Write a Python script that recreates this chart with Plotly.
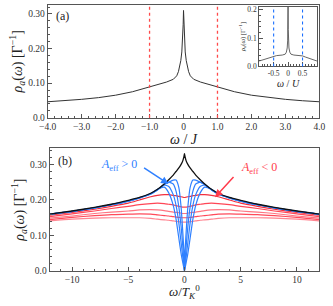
import plotly.graph_objects as go

# ---------------- panel (a): main curve ----------------
a_w = [-4.0, -3.5, -3.0, -2.5, -2.0, -1.5, -1.0, -0.7, -0.5, -0.3, -0.2, -0.15, -0.11, -0.08, -0.05, -0.035, -0.02, -0.01,
       0.0, 0.01, 0.02, 0.035, 0.05, 0.08, 0.11, 0.15, 0.2, 0.3, 0.5, 0.7, 1.0, 1.5, 2.0, 2.5, 3.0, 3.5, 4.0]
a_rho = [0.046, 0.049, 0.053, 0.058, 0.065, 0.075, 0.088, 0.097, 0.103, 0.111, 0.121, 0.133, 0.148, 0.165, 0.19, 0.21, 0.235, 0.27,
         0.31, 0.27, 0.235, 0.21, 0.19, 0.165, 0.148, 0.133, 0.121, 0.111, 0.103, 0.097, 0.088, 0.075, 0.065, 0.058, 0.053, 0.049, 0.046]
a_marks = [-1.0, 1.0]
a_xticks = [-4, -3, -2, -1, 0, 1, 2, 3, 4]
a_xtext = ["−4.0", "−3.0", "−2.0", "−1.0", "0", "1.0", "2.0", "3.0", "4.0"]
a_yticks = [0.0, 0.1, 0.2, 0.3]
a_ytext = ["0.0", "0.10", "0.20", "0.30"]

# ---------------- inset ----------------
i_w = [-1.0, -0.8, -0.6, -0.5, -0.4, -0.2, -0.1, -0.06, -0.03, -0.015, -0.006,
       0.0, 0.006, 0.015, 0.03, 0.06, 0.1, 0.2, 0.4, 0.5, 0.6, 0.8, 1.0]
i_rho = [0.019, 0.026, 0.033, 0.037, 0.038, 0.040, 0.043, 0.05, 0.065, 0.09, 0.13,
         0.25, 0.13, 0.09, 0.065, 0.05, 0.043, 0.040, 0.038, 0.037, 0.033, 0.026, 0.019]
i_marks = [-0.5, 0.5]
i_xticks = [-0.5, 0, 0.5]
i_xtext = ["-0.5", "0", "0.5"]
i_yticks = [0.0, 0.1, 0.2]
i_ytext = ["0.0", "0.1", "0.2"]

# ---------------- panel (b) ----------------
b_w = [-12.0, -10.0, -8.0, -6.5, -5.0, -4.0, -3.0, -2.4, -1.8, -1.4, -1.0, -0.75, -0.5, -0.3, -0.15, -0.05,
       0.0, 0.05, 0.15, 0.3, 0.5, 0.75, 1.0, 1.4, 1.8, 2.4, 3.0, 4.0, 5.0, 6.5, 8.0, 10.0, 12.0]
b_black = [0.160, 0.169, 0.179, 0.188, 0.199, 0.207, 0.219, 0.230, 0.245, 0.257, 0.270, 0.280, 0.290, 0.300, 0.310, 0.322,
           0.330, 0.322, 0.310, 0.300, 0.290, 0.280, 0.270, 0.257, 0.245, 0.230, 0.219, 0.207, 0.199, 0.188, 0.179, 0.169, 0.160]
b_blue1 = [0.16, 0.168, 0.178, 0.187, 0.197, 0.206, 0.217, 0.228, 0.243, 0.25, 0.256, 0.256, 0.235, 0.18, 0.11, 0.055,
           0.0, 0.055, 0.11, 0.18, 0.235, 0.256, 0.256, 0.25, 0.243, 0.228, 0.217, 0.206, 0.197, 0.187, 0.178, 0.168, 0.16]
b_blue2 = [0.16, 0.168, 0.178, 0.187, 0.197, 0.206, 0.217, 0.229, 0.244, 0.25, 0.245, 0.225, 0.18, 0.125, 0.07, 0.025,
           0.0, 0.025, 0.07, 0.125, 0.18, 0.225, 0.245, 0.25, 0.244, 0.229, 0.217, 0.206, 0.197, 0.187, 0.178, 0.168, 0.16]
b_blue3 = [0.16, 0.168, 0.178, 0.187, 0.197, 0.206, 0.217, 0.229, 0.242, 0.238, 0.215, 0.185, 0.135, 0.08, 0.04, 0.014,
           0.0, 0.014, 0.04, 0.08, 0.135, 0.185, 0.215, 0.238, 0.242, 0.229, 0.217, 0.206, 0.197, 0.187, 0.178, 0.168, 0.16]
b_blue4 = [0.16, 0.168, 0.178, 0.187, 0.197, 0.206, 0.218, 0.23, 0.236, 0.22, 0.185, 0.146, 0.092, 0.049, 0.024, 0.008,
           0.0, 0.008, 0.024, 0.049, 0.092, 0.146, 0.185, 0.22, 0.236, 0.23, 0.218, 0.206, 0.197, 0.187, 0.178, 0.168, 0.16]
b_red1 = [0.157, 0.165, 0.174, 0.182, 0.191, 0.2, 0.209, 0.213, 0.215, 0.215, 0.213, 0.212, 0.21, 0.209, 0.208, 0.207,
          0.207, 0.207, 0.208, 0.209, 0.21, 0.212, 0.213, 0.215, 0.215, 0.213, 0.209, 0.2, 0.191, 0.182, 0.174, 0.165, 0.157]
b_red2 = [0.153, 0.161, 0.169, 0.176, 0.182, 0.187, 0.19, 0.191, 0.19, 0.188, 0.186, 0.184, 0.182, 0.181, 0.18, 0.18,
          0.18, 0.18, 0.18, 0.181, 0.182, 0.184, 0.186, 0.188, 0.19, 0.191, 0.19, 0.187, 0.182, 0.176, 0.169, 0.161, 0.153]
b_red3 = [0.149, 0.155, 0.162, 0.166, 0.169, 0.172, 0.173, 0.172, 0.17, 0.168, 0.166, 0.165, 0.164, 0.163, 0.162, 0.162,
          0.162, 0.162, 0.162, 0.163, 0.164, 0.165, 0.166, 0.168, 0.17, 0.172, 0.173, 0.172, 0.169, 0.166, 0.162, 0.155, 0.149]
b_red4 = [0.145, 0.151, 0.156, 0.159, 0.16, 0.161, 0.16, 0.158, 0.156, 0.155, 0.153, 0.152, 0.151, 0.15, 0.15, 0.15,
          0.15, 0.15, 0.15, 0.15, 0.151, 0.152, 0.153, 0.155, 0.156, 0.158, 0.16, 0.161, 0.16, 0.159, 0.156, 0.151, 0.145]
b_red5 = [0.141, 0.146, 0.149, 0.15, 0.15, 0.15, 0.148, 0.146, 0.144, 0.143, 0.141, 0.14, 0.139, 0.138, 0.138, 0.138,
          0.138, 0.138, 0.138, 0.138, 0.139, 0.14, 0.141, 0.143, 0.144, 0.146, 0.148, 0.15, 0.15, 0.15, 0.149, 0.146, 0.141]
b_blues = [b_blue1, b_blue2, b_blue3, b_blue4]
b_reds = [b_red1, b_red2, b_red3, b_red4, b_red5]
b_xticks = [-10, -5, 0, 5, 10]
b_xtext = ["−10", "−5", "0", "5", "10"]
b_yticks = [0.0, 0.1, 0.2, 0.3]
b_ytext = ["0.0", "0.10", "0.20", "0.30"]

# ---------------- styling ----------------
W, H = 333, 306
FONT = "Liberation Serif"
BLUE = "#2f80ff"
RED_SHADES = ["#f2303f", "#ff4656", "#ff7582", "#ff4a5a", "#ff8591"]
AX = "#555555"

fig = go.Figure()

# panel (a)
fig.add_trace(go.Scatter(x=a_w, y=a_rho, mode="lines", line=dict(color="#333333", width=1),
                         xaxis="x", yaxis="y", showlegend=False))
# inset
fig.add_trace(go.Scatter(x=i_w, y=i_rho, mode="lines", line=dict(color="#555555", width=0.9),
                         xaxis="x3", yaxis="y3", showlegend=False))
# panel (b)
for r, c in zip(b_reds, RED_SHADES):
    fig.add_trace(go.Scatter(x=b_w, y=r, mode="lines", line=dict(color=c, width=1.2, shape="spline", smoothing=0.6),
                             xaxis="x2", yaxis="y2", showlegend=False))
for bl in b_blues:
    fig.add_trace(go.Scatter(x=b_w, y=bl, mode="lines", line=dict(color=BLUE, width=1.2, shape="spline", smoothing=0.5),
                             xaxis="x2", yaxis="y2", showlegend=False))
fig.add_trace(go.Scatter(x=b_w, y=b_black, mode="lines", line=dict(color="#111111", width=1.3, shape="spline", smoothing=0.5),
                         xaxis="x2", yaxis="y2", showlegend=False))

shapes = []
for m in a_marks:
    shapes.append(dict(type="line", xref="x", yref="y domain", x0=m, x1=m, y0=0, y1=1,
                       line=dict(color="#ff4a4a", width=1.3, dash="dot")))
for m in i_marks:
    shapes.append(dict(type="line", xref="x3", yref="y3 domain", x0=m, x1=m, y0=0, y1=1,
                       line=dict(color="#1a6fff", width=1.1, dash="dot")))


def axis(domain, rng, tv, tt, size=10, minor=None, title=None, tsize=12, standoff=4, anchor=None):
    d = dict(domain=domain, range=rng, tickmode="array", tickvals=tv, ticktext=tt,
             ticks="inside", ticklen=4, tickwidth=0.8, tickcolor=AX,
             showline=True, linecolor=AX, linewidth=1, mirror=True,
             showgrid=False, zeroline=False, anchor=anchor,
             tickfont=dict(family=FONT, size=size, color="#333333"))
    if minor is not None:
        d["minor"] = dict(dtick=minor, tick0=0, ticks="inside", ticklen=2, tickwidth=0.6, tickcolor=AX, showgrid=False)
    if title is not None:
        d["title"] = dict(text=title, font=dict(family=FONT, size=tsize, color="#222222"), standoff=standoff)
    return d


ytitle = "<i>ρ</i><sub><i>a</i></sub>(<i>ω</i>) [Γ<sup>−1</sup>]"

fig.update_layout(
    width=W, height=H, margin=dict(l=0, r=0, t=0, b=0),
    paper_bgcolor="white", plot_bgcolor="white",
    xaxis=axis([40.5 / W, 325 / W], [-4, 4], a_xticks, a_xtext, size=9.5, minor=0.2,
               title="<i>ω</i> / <i>J</i>", tsize=14, standoff=3, anchor="y"),
    yaxis=axis([1 - 119 / H, 1 - 4 / H], [0, 0.326], a_yticks, a_ytext, size=9.5, minor=0.02,
               title=ytitle, tsize=14, standoff=2, anchor="x"),
    xaxis2=axis([42.5 / W, 325 / W], [-12, 12], b_xticks, b_xtext, size=9.5, minor=1, anchor="y2"),
    yaxis2=axis([1 - 275.5 / H, 1 - 150 / H], [0, 0.346], b_yticks, b_ytext, size=9.5, minor=0.02,
                title=ytitle, tsize=14, standoff=2, anchor="x2"),
    xaxis3=axis([262 / W, 322.5 / W], [-1, 1], i_xticks, i_xtext, size=7.5, minor=0.1,
                title="<i>ω</i> / <i>U</i>", tsize=10, standoff=1, anchor="y3"),
    yaxis3=axis([1 - 66.7 / H, 1 - 6 / H], [0, 0.21], i_yticks, i_ytext, size=7.5, minor=0.02,
                title=ytitle, tsize=6.5, standoff=1, anchor="x3"),
    shapes=shapes,
    annotations=[
        dict(text="<i>ω</i>/<i>T</i><sub><i>K</i></sub><sup>0</sup>", xref="paper", yref="paper",
             x=184 / W, y=1 - 297 / H, showarrow=False, xanchor="center", yanchor="middle",
             font=dict(family=FONT, size=13, color="#222222")),
        dict(text="(a)", xref="paper", yref="paper", x=47 / W, y=1 - 15 / H, showarrow=False,
             xanchor="left", yanchor="middle", font=dict(family=FONT, size=12, color="#222222")),
        dict(text="(b)", xref="paper", yref="paper", x=49 / W, y=1 - 163 / H, showarrow=False,
             xanchor="left", yanchor="middle", font=dict(family=FONT, size=12, color="#222222")),
        dict(text="<i>A</i><sub>eff</sub> &gt; 0", xref="x2", yref="y2", x=-5.85, y=0.299, showarrow=False,
             font=dict(family=FONT, size=12, color=BLUE)),
        dict(text=" ", xref="x2", yref="y2", x=-1.42, y=0.245, ax=-3.86, ay=0.296, axref="x2", ayref="y2",
             showarrow=True, arrowhead=2, arrowsize=1, arrowwidth=1.5, arrowcolor=BLUE),
        dict(text="<i>A</i><sub>eff</sub> &lt; 0", xref="x2", yref="y2", x=6.6, y=0.289, showarrow=False,
             font=dict(family=FONT, size=12, color="#ff3a4a")),
        dict(text=" ", xref="x2", yref="y2", x=2.72, y=0.208, ax=4.63, ay=0.274, axref="x2", ayref="y2",
             showarrow=True, arrowhead=2, arrowsize=1, arrowwidth=1.5, arrowcolor="#ff3a4a"),
    ],
)

fig.write_html("out.html", config={"displayModeBar": False},
               post_script="document.documentElement.style.margin='0';document.body.style.margin='0';"
                           "document.body.style.overflow='hidden';")
